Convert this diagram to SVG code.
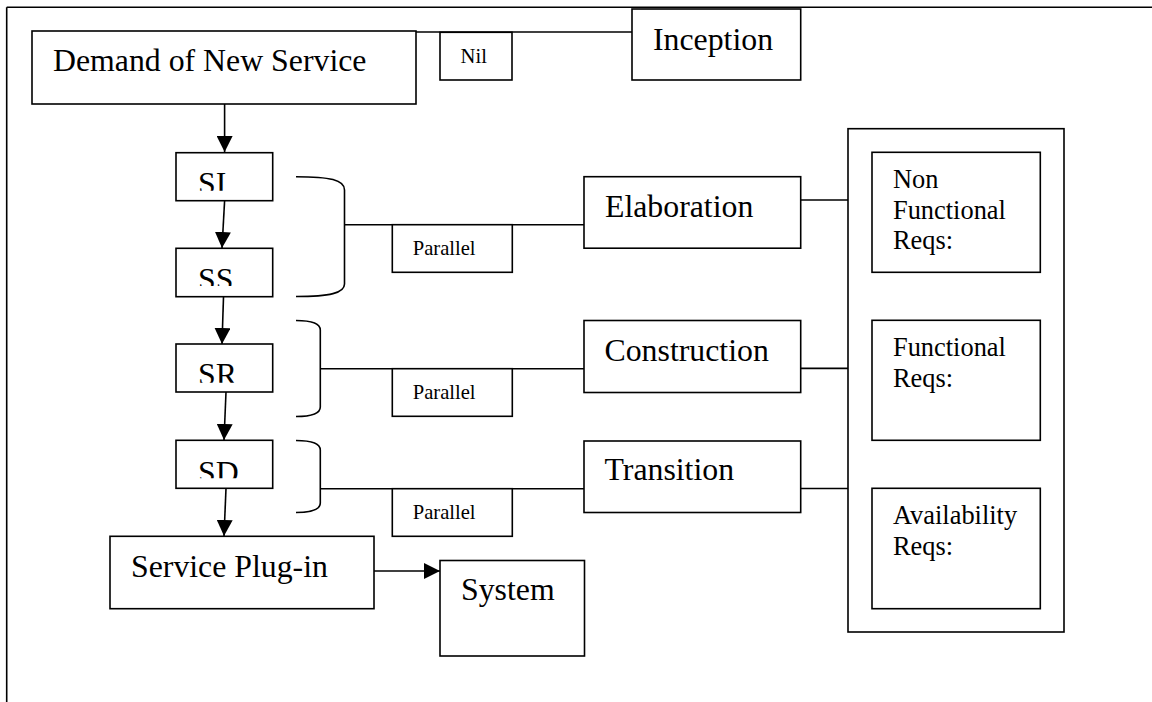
<svg xmlns="http://www.w3.org/2000/svg" width="1152" height="702" viewBox="0 0 1152 702">
<style>
  .box{fill:#fff;stroke:#000;stroke-width:1.6}
  .ln{fill:none;stroke:#000;stroke-width:1.6}
  .t{font-family:"Liberation Serif","Times New Roman",serif;fill:#000}
  .big{font-size:31.8px}
  .mid{font-size:26.4px}
  .sm{font-size:20.6px}
</style>
<defs>
  <marker id="ah" markerUnits="userSpaceOnUse" markerWidth="16" markerHeight="16" viewBox="0 0 14 14" refX="14" refY="7" orient="auto">
    <path d="M0,0 L14,7 L0,14 Z" fill="#000"/>
  </marker>
  <clipPath id="cSI"><rect x="176" y="152" width="97" height="38.7"/></clipPath>
  <clipPath id="cSS"><rect x="176" y="248" width="97" height="38"/></clipPath>
  <clipPath id="cSR"><rect x="176" y="344" width="97" height="38.7"/></clipPath>
  <clipPath id="cSD"><rect x="176" y="440" width="97" height="38.3"/></clipPath>
</defs>

<g id="frame">
  <line class="ln" x1="6.7" y1="7.3" x2="1152" y2="7.3" stroke-width="2"/>
  <line class="ln" x1="6.7" y1="7.3" x2="6.7" y2="702"/>
</g>

<g id="connectors">
  <line class="ln" x1="416" y1="32" x2="632" y2="32"/>
  <line class="ln" x1="224.6" y1="104" x2="224.6" y2="152" marker-end="url(#ah)"/>
  <line class="ln" x1="224.6" y1="200.7" x2="222" y2="248" marker-end="url(#ah)"/>
  <line class="ln" x1="223.5" y1="296.7" x2="222" y2="344" marker-end="url(#ah)"/>
  <line class="ln" x1="226" y1="392" x2="224" y2="440" marker-end="url(#ah)"/>
  <line class="ln" x1="226" y1="488.3" x2="224" y2="536" marker-end="url(#ah)"/>
  <line class="ln" x1="374" y1="571" x2="440" y2="571" marker-end="url(#ah)"/>
  <path class="ln" d="M296,176.7 C330,176.7 344.5,180 344.5,190 L344.5,284 C344.5,293 330,296.5 296,296.5"/>
  <path class="ln" d="M296,320.5 C312,320.5 320.3,323 320.3,330 L320.3,407 C320.3,414 312,416.5 296,416.5"/>
  <path class="ln" d="M296,440.5 C312,440.5 320.3,443 320.3,450 L320.3,503 C320.3,510 312,512.5 296,512.5"/>
  <line class="ln" x1="344.5" y1="224.7" x2="584" y2="224.7"/>
  <line class="ln" x1="320.3" y1="368.7" x2="584" y2="368.7"/>
  <line class="ln" x1="320.3" y1="488.7" x2="584" y2="488.7"/>
  <line class="ln" x1="800.7" y1="200" x2="848" y2="200"/>
  <line class="ln" x1="800.7" y1="368.4" x2="848" y2="368.4"/>
  <line class="ln" x1="800.7" y1="488.5" x2="848" y2="488.5"/>
</g>

<g id="demand">
  <rect class="box" x="32" y="31" width="384" height="73"/>
  <text class="t big" x="53" y="70.7">Demand of New Service</text>
</g>
<g id="nil">
  <rect class="box" x="440" y="32.3" width="72" height="47.7"/>
  <text class="t sm" x="460.6" y="63">Nil</text>
</g>
<g id="inception">
  <rect class="box" x="632" y="9" width="168.7" height="71"/>
  <text class="t big" x="653" y="50">Inception</text>
</g>

<g id="si">
  <rect class="box" x="176" y="152.7" width="96.7" height="48"/>
  <text class="t big" x="198" y="193.7" clip-path="url(#cSI)">SI</text>
</g>
<g id="ss">
  <rect class="box" x="176" y="248.3" width="96.7" height="48.4"/>
  <text class="t big" x="198" y="289.5" clip-path="url(#cSS)">SS</text>
</g>
<g id="sr">
  <rect class="box" x="176" y="344" width="96.7" height="48"/>
  <text class="t big" x="198" y="384.5" clip-path="url(#cSR)">SR</text>
</g>
<g id="sd">
  <rect class="box" x="176" y="440.3" width="96.7" height="48"/>
  <text class="t big" x="198" y="482.7" clip-path="url(#cSD)">SD</text>
</g>

<g id="parallel1">
  <rect class="box" x="392.3" y="224.7" width="120" height="47.6"/>
  <text class="t sm" x="412.7" y="255.3">Parallel</text>
</g>
<g id="parallel2">
  <rect class="box" x="392.3" y="368.7" width="120" height="47.6"/>
  <text class="t sm" x="412.7" y="398.7">Parallel</text>
</g>
<g id="parallel3">
  <rect class="box" x="392.3" y="488.7" width="120" height="47.6"/>
  <text class="t sm" x="412.7" y="519">Parallel</text>
</g>

<g id="elaboration">
  <rect class="box" x="584" y="176.7" width="216.7" height="71.5"/>
  <text class="t big" x="605" y="217.3">Elaboration</text>
</g>
<g id="construction">
  <rect class="box" x="584" y="320.5" width="216.7" height="72"/>
  <text class="t big" x="604.5" y="361">Construction</text>
</g>
<g id="transition">
  <rect class="box" x="584" y="441" width="216.7" height="71.5"/>
  <text class="t big" x="604.5" y="480">Transition</text>
</g>

<g id="service-plugin">
  <rect class="box" x="110" y="536.3" width="264" height="72.4"/>
  <text class="t big" x="131" y="576.7">Service Plug-in</text>
</g>
<g id="system">
  <rect class="box" x="440" y="560.5" width="144.5" height="95.5"/>
  <text class="t big" x="461" y="600">System</text>
</g>

<g id="requirements">
  <rect class="box" x="848" y="128.7" width="216" height="503.3"/>
</g>
<g id="non-functional">
  <rect class="box" x="872" y="152.3" width="168.3" height="120"/>
  <text class="t mid" x="893" y="188.3">Non</text>
  <text class="t mid" x="893" y="218.5">Functional</text>
  <text class="t mid" x="893" y="249">Reqs:</text>
</g>
<g id="functional">
  <rect class="box" x="872" y="320.3" width="168.3" height="120"/>
  <text class="t mid" x="893" y="356">Functional</text>
  <text class="t mid" x="893" y="386.7">Reqs:</text>
</g>
<g id="availability">
  <rect class="box" x="872" y="488.3" width="168.3" height="120.4"/>
  <text class="t mid" x="893" y="524">Availability</text>
  <text class="t mid" x="893" y="555">Reqs:</text>
</g>
</svg>
